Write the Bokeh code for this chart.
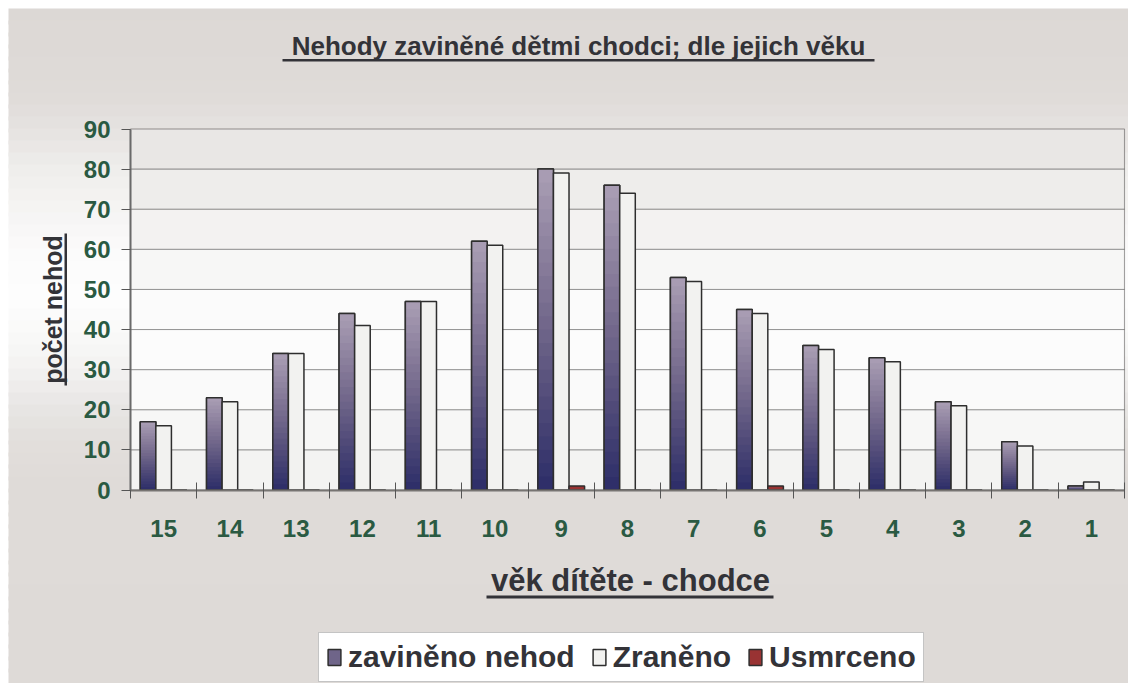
import numpy as np
from bokeh.plotting import figure
from bokeh.models import (Range1d, FixedTicker, Label, BoxAnnotation, Legend,
                          LegendItem)
from bokeh.embed import file_html
from bokeh.resources import INLINE

# ---- data ----
ages = ["15", "14", "13", "12", "11", "10", "9", "8", "7", "6", "5", "4", "3", "2", "1"]
zavineno = [17, 23, 34, 44, 47, 62, 80, 76, 53, 45, 36, 33, 22, 12, 1]
zraneno = [16, 22, 34, 41, 47, 61, 79, 74, 52, 44, 35, 32, 21, 11, 2]
usmrceno = [0, 0, 0, 0, 0, 0, 1, 0, 0, 1, 0, 0, 0, 0, 0]
y_ticks = [0, 10, 20, 30, 40, 50, 60, 70, 80, 90]

title_text = "Nehody zaviněné dětmi chodci; dle jejich věku"
x_title = "věk dítěte - chodce"
y_title = "počet nehod"
series_names = ["zaviněno nehod", "Zraněno", "Usmrceno"]

FONT = "Liberation Sans"
GREEN = "#2a5a42"
DARK = "#333338"

W, H = 1128, 683
# plot-area placement on the page (pixels)
AL, AR, AT, AB = 130, 1124, 128.5, 489.5
ncat = len(ages)
ymax = y_ticks[-1]
ux = (AR - AL) / ncat
uy = (AB - AT) / ymax

def X(px):
    return -0.5 + (px - AL) / ux

def Y(py):
    return (AB - py) / uy

p = figure(width=W, height=H, output_backend="svg", toolbar_location=None,
           x_range=Range1d(X(0), X(W)), y_range=Range1d(Y(H), Y(0)),
           min_border=0)
p.background_fill_color = "white"
p.border_fill_color = "white"
p.outline_line_color = None
p.xgrid.visible = False
p.ygrid.visible = False

def hx(c):
    return np.array([int(c[i:i + 2], 16) for i in (1, 3, 5)], dtype=float)

# page background (vertical gradient approximated by overlapping bands)
bg_stops = [(8, "#dcd8d5"), (95, "#dfdbd8"), (130, "#e6e3e1"), (170, "#efeeec"),
            (215, "#f6f5f4"), (260, "#fcfcfc"), (300, "#fdfdfd"), (340, "#f8f8f7"),
            (375, "#f1f0ef"), (405, "#e8e6e4"), (440, "#e2dfdc"), (480, "#dfdbd8"),
            (684, "#dedad7")]
ys = [s[0] for s in bg_stops]
cols = np.array([hx(s[1]) for s in bg_stops])
edges = np.arange(8, H + 8, 12)
for a, b in zip(edges[:-1], edges[1:]):
    m = (a + b) / 2
    c = [int(round(np.interp(m, ys, cols[:, k]))) for k in range(3)]
    p.add_layout(BoxAnnotation(left=X(8), right=X(W + 5), top=Y(a), bottom=Y(b + 4),
                               fill_color="#%02x%02x%02x" % tuple(c), fill_alpha=1,
                               line_color=None, level="image"))

# plot area: fills between gridlines, then the gridlines on top
band_cols = ["#f3f3f2", "#f7f7f6", "#fafafa", "#fcfcfc", "#fbfbfb",
             "#f7f7f6", "#f3f2f1", "#eeedeb", "#e9e7e5"]
for lo, hi, c in zip(y_ticks[:-1], y_ticks[1:], band_cols):
    p.add_layout(BoxAnnotation(left=-0.5, right=ncat - 0.5, bottom=lo, top=hi,
                               fill_color=c, fill_alpha=1, line_color=None,
                               level="underlay"))
for lo, hi in zip(y_ticks[:-1], y_ticks[1:]):
    p.add_layout(BoxAnnotation(left=-0.5, right=ncat - 0.5, bottom=lo, top=hi,
                               fill_color=None, line_color="#333333",
                               line_width=1, level="underlay"))
p.add_layout(BoxAnnotation(left=-0.5, right=ncat - 0.5, bottom=0, top=ymax,
                           fill_color=None, line_color="#5e5a58", line_width=1.2,
                           level="underlay"))

# ---- bars ----
xidx = np.arange(ncat)
zav = np.array(zavineno, dtype=float)
bw = 0.235
OUT = "#2e2e2e"
r1 = p.vbar(x=xidx - bw, top=zavineno, width=bw, bottom=0,
            fill_color="#6f6589", line_color=OUT, line_width=1.5)
grad = [(0.0, "#2c2d68"), (0.25, "#4d4877"), (0.5, "#6f6589"),
        (0.75, "#8d819e"), (1.0, "#aa9fb5")]
gt = [g[0] for g in grad]
gc = np.array([hx(g[1]) for g in grad])
N = 24
for k in range(N - 1, -1, -1):
    t = (k + 0.5) / N
    c = [int(round(np.interp(t, gt, gc[:, j]))) for j in range(3)]
    p.vbar(x=xidx - bw, bottom=0, top=zav * (k + 1) / N, width=bw,
           fill_color="#%02x%02x%02x" % tuple(c), line_color=None)
p.vbar(x=xidx - bw, top=zavineno, width=bw, bottom=0, fill_color=None,
       line_color=OUT, line_width=1.5)
r2 = p.vbar(x=xidx, top=zraneno, width=bw, bottom=0,
            fill_color="#f2f2f0", line_color=OUT, line_width=1.5)
r3 = p.vbar(x=xidx + bw, top=usmrceno, width=bw, bottom=0,
            fill_color="#993333", line_color=OUT, line_width=1.5)

# ---- axes ----
xa = p.xaxis[0]
xa.fixed_location = 0
xa.bounds = (-0.5, ncat - 0.5)
xa.ticker = FixedTicker(ticks=list(xidx), minor_ticks=list(np.arange(-0.5, ncat, 1.0)))
xa.major_label_overrides = {int(i): a for i, a in zip(xidx, ages)}
xa.major_tick_in = 0
xa.major_tick_out = 0
xa.minor_tick_in = 8
xa.minor_tick_out = 8
xa.minor_tick_line_color = "#555555"
xa.axis_line_color = "#777472"
xa.axis_line_width = 2
xa.major_label_text_font = FONT
xa.major_label_text_font_style = "bold"
xa.major_label_text_font_size = "24px"
xa.major_label_text_color = GREEN
xa.major_label_standoff = 22

ya = p.yaxis[0]
ya.fixed_location = -0.5
ya.bounds = (0, ymax)
ya.ticker = FixedTicker(ticks=y_ticks, minor_ticks=[])
ya.major_tick_in = 0
ya.major_tick_out = 9
ya.major_tick_line_color = "#555555"
ya.axis_line_color = "#6a6a6a"
ya.axis_line_width = 2
ya.major_label_text_font = FONT
ya.major_label_text_font_style = "bold"
ya.major_label_text_font_size = "24px"
ya.major_label_text_color = GREEN
ya.major_label_standoff = 11

# ---- texts with underlines ----
def add_text(txt, px, py, size, angle=0.0):
    p.add_layout(Label(x=X(px), y=Y(py), text=txt, text_font=FONT,
                       text_font_style="bold", text_font_size=size,
                       text_color=DARK, text_align="center",
                       text_baseline="middle", angle=angle))

def add_line(l, r, t, b):
    p.add_layout(BoxAnnotation(left=X(l), right=X(r), top=Y(t), bottom=Y(b),
                               fill_color=DARK, fill_alpha=1, line_color=None,
                               level="overlay"))

add_text(title_text, 578, 45, "26px")
add_line(282, 874, 58.5, 61)
add_text(x_title, 630, 580, "31px")
add_line(486, 773, 595, 598)
add_text(y_title, 52, 309, "25px", angle=np.pi / 2)
add_line(64, 66.5, 233, 385)

legend = Legend(items=[LegendItem(label=series_names[0], renderers=[r1]),
                       LegendItem(label=series_names[1], renderers=[r2]),
                       LegendItem(label=series_names[2], renderers=[r3])],
                orientation="horizontal", location=(318, H - 682),
                label_text_font=FONT, label_text_font_style="bold",
                label_text_font_size="30px", label_text_color=DARK,
                glyph_width=16, glyph_height=20, label_standoff=6, spacing=16,
                padding=7, margin=0, background_fill_color="white",
                background_fill_alpha=1,
                border_line_color="#8a8a8a", border_line_width=1)
p.add_layout(legend, "center")

open("out.html", "w").write(file_html(p, INLINE))
